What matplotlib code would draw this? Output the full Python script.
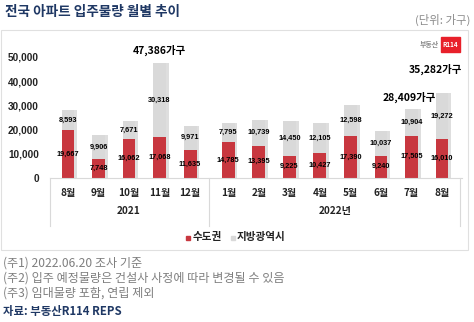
import matplotlib
matplotlib.use("Agg")
import matplotlib.pyplot as plt
from matplotlib.patches import Rectangle
from matplotlib.lines import Line2D

plt.rcParams['font.family'] = ['Noto Sans CJK KR', 'DejaVu Sans']

months = ['8월', '9월', '10월', '11월', '12월', '1월', '2월', '3월', '4월', '5월', '6월', '7월', '8월']
years = ['2021', '2022년']
year_of = [0, 0, 0, 0, 0, 1, 1, 1, 1, 1, 1, 1, 1]
capital = [19667, 7748, 16062, 17068, 11635, 14785, 13395, 9225, 10427, 17390, 9240, 17505, 16010]
metro = [8593, 9906, 7671, 30318, 9971, 7795, 10739, 14450, 12105, 12598, 10037, 10904, 19272]
series_names = ['수도권', '지방광역시']
highlight = [3, 11, 12]
yticks = [0, 10000, 20000, 30000, 40000, 50000]

W, H = 474, 322
fig = plt.figure(figsize=(W / 100, H / 100), dpi=100)
fig.patch.set_facecolor('white')

def fx(px):
    return px / W

def fy(py):
    return 1 - py / H

RED = '#C8373F'
GRAY = '#D9D9D9'
NAVY = '#1F3864'
NUMFONT = ['Liberation Sans', 'DejaVu Sans']

# axes placement
ax_left, ax_right, ax_top, ax_bot = 50, 462, 40, 178
ax = fig.add_axes([fx(ax_left), fy(ax_bot), (ax_right - ax_left) / W, (ax_bot - ax_top) / H])
ax.set_facecolor('none')

gap = 0.25
xs = [i + (gap if year_of[i] == 1 else 0) for i in range(len(months))]
ppu = (442 - 68) / (xs[-1] - xs[0])
xmin = xs[0] - (68 - ax_left) / ppu
xmax = xs[-1] + (ax_right - 442) / ppu
ax.set_xlim(xmin, xmax)
ymax = 50000 * (ax_bot - ax_top) / (178 - 57)
ax.set_ylim(0, ymax)

bw = 0.42
tot = [c + m for c, m in zip(capital, metro)]
# shadow
ax.bar([x + 0.09 for x in xs], tot, width=bw, color='#BFBFBF', alpha=0.5, zorder=1)
ax.bar(xs, capital, width=bw, color=RED, zorder=2)
ax.bar(xs, metro, bottom=capital, width=bw, color=GRAY, zorder=2)

for x, c, m in zip(xs, capital, metro):
    ax.text(x, c / 2, f'{c:,}', ha='center', va='center', fontsize=5.3, fontweight='bold',
            color='black', zorder=4, family=NUMFONT)
    ax.text(x, c + m / 2, f'{m:,}', ha='center', va='center', fontsize=5.3, fontweight='bold',
            color='black', zorder=4, family=NUMFONT)

# total annotations
ann_pos = {3: (159, 50), 11: (409, 97), 12: (435, 69)}
for i in highlight:
    px, py = ann_pos[i]
    fig.text(fx(px), fy(py), f'{tot[i]:,}가구', ha='center', va='center', fontsize=7.5,
             fontweight='bold', color='black')

ax.set_yticks(yticks)
ax.set_yticklabels([f'{v:,}' for v in yticks], fontsize=7.2, fontweight='bold', color='#222222',
                   family=NUMFONT)
ax.tick_params(axis='y', length=0, pad=8)
ax.set_xticks([])
for s in ['top', 'right', 'left']:
    ax.spines[s].set_visible(False)
ax.spines['bottom'].set_color('#D9D9D9')
ax.spines['bottom'].set_linewidth(0.8)

# month labels and year labels
for x, m in zip(xs, months):
    fig.text(fx(ax_left + (x - xmin) * ppu), fy(193), m, ha='center', va='center',
             fontsize=7.2, fontweight='bold', color='#222222')
y0 = [x for x, y in zip(xs, year_of) if y == 0]
y1 = [x for x, y in zip(xs, year_of) if y == 1]
for grp, name in zip([y0, y1], years):
    cx = (grp[0] + grp[-1]) / 2
    fig.text(fx(ax_left + (cx - xmin) * ppu), fy(211), name, ha='center', va='center',
             fontsize=7.2, fontweight='bold', color='#222222')

# separators
sep_x = [ax_left, ax_left + ((xs[4] + xs[5]) / 2 - xmin) * ppu, 460]
for sx in sep_x:
    fig.add_artist(Line2D([fx(sx), fx(sx)], [fy(178), fy(226)], color='#D9D9D9', lw=0.8))

# legend
fig.add_artist(Rectangle((fx(186), fy(239.5)), 4 / W, 4 / H, color=RED))
fig.text(fx(193), fy(237), series_names[0], ha='left', va='center', fontsize=7.6, fontweight='bold', color='#222222')
fig.add_artist(Rectangle((fx(231), fy(239.5)), 4 / W, 4 / H, color=GRAY))
fig.text(fx(237), fy(237), series_names[1], ha='left', va='center', fontsize=7.6, fontweight='bold', color='#222222')

# panel border
fig.add_artist(Rectangle((fx(0.5), fy(250)), 467.5 / W, 220 / H, fill=False, edgecolor='#E0E0E0', lw=0.8))

# title and unit
fig.text(fx(5), fy(12), '전국 아파트 입주물량 월별 추이', ha='left', va='center', fontsize=9.8,
         fontweight='bold', color=NAVY)
fig.text(fx(470), fy(20), '(단위: 가구)', ha='right', va='center', fontsize=8.2, color='#8C8C8C')

# logo
fig.text(fx(439), fy(44), '부동산', ha='right', va='center', fontsize=5, color='#8C8C8C', fontweight='bold')
fig.add_artist(Rectangle((fx(441), fy(52)), 19 / W, 15 / H, color='#E8202A'))
fig.text(fx(450.5), fy(44.5), 'R114', ha='center', va='center', fontsize=4.5, color='white', fontweight='bold')

# footnotes
notes = ['(주1) 2022.06.20 조사 기준',
         '(주2) 입주 예정물량은 건설사 사정에 따라 변경될 수 있음',
         '(주3) 임대물량 포함, 연립 제외']
for k, t in enumerate(notes):
    fig.text(fx(3), fy(263 + 15 * k), t, ha='left', va='center', fontsize=8.7, color='#7F7F7F')
fig.text(fx(3), fy(312), '자료: 부동산R114 REPS', ha='left', va='center', fontsize=8.2,
         fontweight='bold', color=NAVY)

fig.savefig('out.png', dpi=100, facecolor='white')
